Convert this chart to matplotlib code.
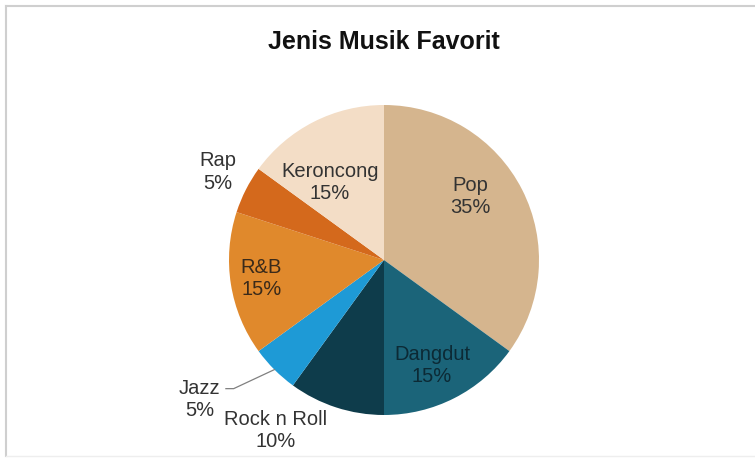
import matplotlib
matplotlib.use("Agg")
import matplotlib.pyplot as plt
import numpy as np
from matplotlib.lines import Line2D

plt.rcParams['font.family'] = ['Liberation Sans', 'DejaVu Sans']

title = "Jenis Musik Favorit"
categories = ["Pop", "Dangdut", "Rock n Roll", "Jazz", "R&B", "Rap", "Keroncong"]
values = [35, 15, 10, 5, 15, 5, 15]
colors = ["#D5B58E", "#1B6479", "#0E3C4B", "#1E9AD6", "#E0892C", "#D4691C", "#F3DDC6"]

# label positions (in pie-radius units, relative to centre)
label_pos = [(0.56, 0.41), (0.31, -0.68), (-0.70, -1.10), (-1.19, -0.90),
             (-0.79, -0.12), (-1.07, 0.57), (-0.35, 0.50)]
label_color = ["#333333", "#0c2a35", "#333333", "#333333", "#3a2a1a", "#333333", "#333333"]

W, H = 755, 459
cx, cy, R = 384, 260, 155

fig = plt.figure(figsize=(W / 100, H / 100), dpi=100)
ax = fig.add_axes([0, 0, 1, 1])
ax.axis('off')

wedges, _ = ax.pie(values, colors=colors, startangle=90, counterclock=False,
                   radius=1.0, center=(0, 0), wedgeprops=dict(linewidth=0))
ax.set_aspect('auto')
ax.set_xlim(-cx / R, (W - cx) / R)
ax.set_ylim(-(H - cy) / R, cy / R)

for i, (cat, v) in enumerate(zip(categories, values)):
    x, y = label_pos[i]
    ax.text(x, y, f"{cat}\n{v}%", ha='center', va='center', fontsize=14.5,
            color=label_color[i], linespacing=1.25)

# leader line for Jazz
jw = wedges[3]
mid = np.deg2rad((jw.theta1 + jw.theta2) / 2)
ex, ey = np.cos(mid), np.sin(mid)
lx, ly = label_pos[3]
ax.plot([lx + 0.17, lx + 0.22, ex], [ly + 0.07, ly + 0.07, ey], color="#808080", lw=0.9)

fig.text(cx / W, 1 - 42 / H, title, ha='center', va='center', fontsize=18,
         fontweight='bold', color='#111111')

# frame lines
fig.add_artist(Line2D([6 / W, 1], [1 - 6 / H, 1 - 6 / H], color='#cfcfcf', lw=1.5, transform=fig.transFigure))
fig.add_artist(Line2D([6 / W, 6 / W], [1 - 6 / H, 1 - 456 / H], color='#cfcfcf', lw=1.5, transform=fig.transFigure))
fig.add_artist(Line2D([6 / W, 1], [1 - 456 / H, 1 - 456 / H], color='#eeeeee', lw=1.0, transform=fig.transFigure))

fig.savefig("out.png", dpi=100)
